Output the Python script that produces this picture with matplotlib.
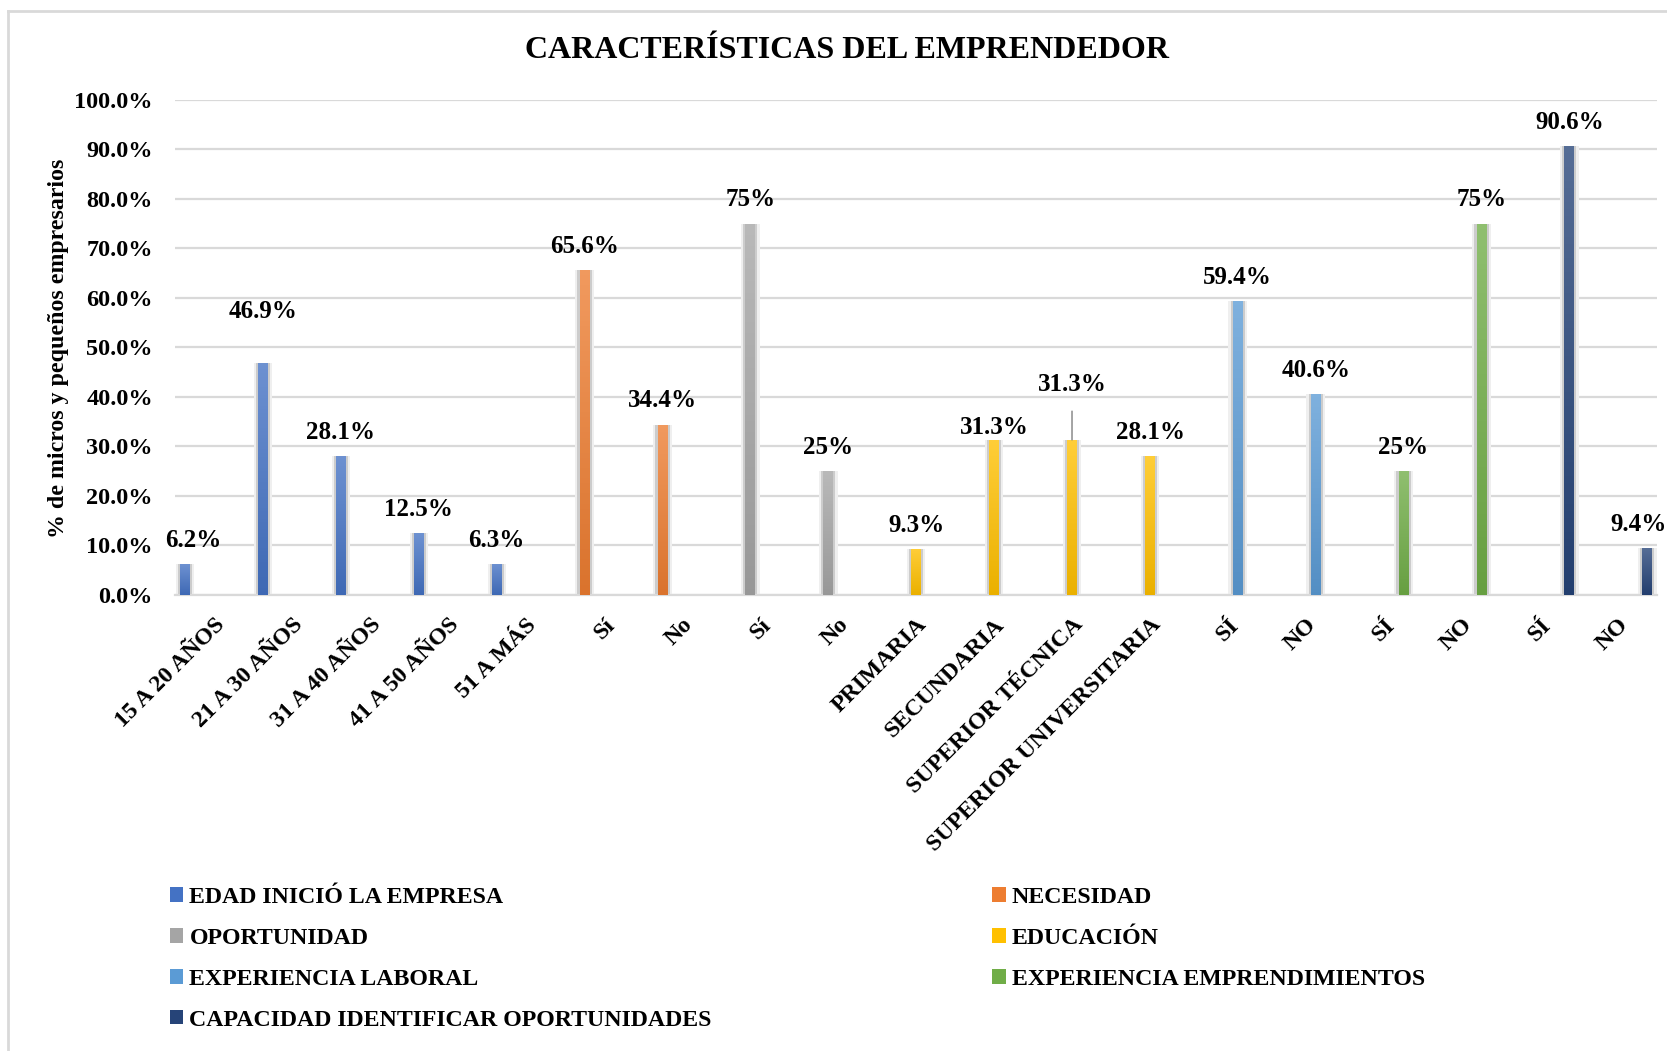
import numpy as np
import matplotlib
matplotlib.use('Agg')
import matplotlib.pyplot as plt
from matplotlib.patches import Patch
from matplotlib.lines import Line2D
from matplotlib.colors import to_rgb
from matplotlib.transforms import ScaledTranslation

plt.rcParams['font.family'] = ['Liberation Serif', 'DejaVu Serif']
plt.rcParams['font.weight'] = 'bold'

# ---------- datos ----------
TITLE = 'CARACTERÍSTICAS DEL EMPRENDEDOR'
YLABEL = '% de micros y pequeños empresarios'

CATEGORIES = ['15 A 20 AÑOS', '21 A 30 AÑOS', '31 A 40 AÑOS', '41 A 50 AÑOS', '51 A MÁS',
              'Sí', 'No', 'Sí', 'No',
              'PRIMARIA', 'SECUNDARIA', 'SUPERIOR TÉCNICA', 'SUPERIOR UNIVERSITARIA',
              'SÍ', 'NO', 'SÍ', 'NO', 'SÍ', 'NO']

SERIES = ['EDAD INICIÓ LA EMPRESA', 'NECESIDAD', 'OPORTUNIDAD', 'EDUCACIÓN',
          'EXPERIENCIA LABORAL', 'EXPERIENCIA EMPRENDIMIENTOS',
          'CAPACIDAD IDENTIFICAR OPORTUNIDADES']

# índice de categoría de cada serie y sus valores (%)
edad_cat = [0, 1, 2, 3, 4]
edad = [6.2, 46.9, 28.1, 12.5, 6.3]
necesidad_cat = [5, 6]
necesidad = [65.6, 34.4]
oportunidad_cat = [7, 8]
oportunidad = [75, 25]
educacion_cat = [9, 10, 11, 12]
educacion = [9.3, 31.3, 31.3, 28.1]
exp_laboral_cat = [13, 14]
exp_laboral = [59.4, 40.6]
exp_empr_cat = [15, 16]
exp_empr = [25, 75]
capacidad_cat = [17, 18]
capacidad = [90.6, 9.4]

SERIES_CATS = [edad_cat, necesidad_cat, oportunidad_cat, educacion_cat,
               exp_laboral_cat, exp_empr_cat, capacidad_cat]
SERIES_VALS = [edad, necesidad, oportunidad, educacion,
               exp_laboral, exp_empr, capacidad]

COLORS = ['#4472C4', '#ED7D31', '#A5A5A5', '#FFC000', '#5B9BD5', '#70AD47', '#264478']

# desplazamiento de etiquetas (puntos) que no siguen la posición por defecto
LABEL_OFFSET = {(0, 0): (6, 17), (0, 1): (0, 37), (3, 1): (0, 9), (3, 2): (0, 40),
                (6, 1): (-6, 17)}
LEADER = {(3, 2)}

# ---------- figura ----------
fig = plt.figure(figsize=(16.67, 10.51), dpi=100)
ax = fig.add_axes([0.105, 0.434, 0.889, 0.471])

n = len(SERIES)
w = 0.125
for i, (cats, vals) in enumerate(zip(SERIES_CATS, SERIES_VALS)):
    xs = np.array(cats) + (i - (n - 1) / 2) * w
    base = np.array(to_rgb(COLORS[i]))
    top = base + (1 - base) * 0.22
    bot = base * 0.92
    t = np.linspace(0, 1, 64)[:, None, None]
    grad = top[None, None, :] * (1 - t) + bot[None, None, :] * t
    # sombra
    ax.bar(xs, vals, w * 1.9, color='#efefef', zorder=1)
    ax.bar(xs, vals, w * 1.45, color='#cccccc', zorder=2)
    bars = ax.bar(xs, vals, w, color=COLORS[i], zorder=3)
    for rect, x, v in zip(bars, xs, vals):
        im = ax.imshow(grad, extent=(x - w / 2, x + w / 2, 0, v), origin='upper',
                       aspect='auto', zorder=3.5)
        im.set_clip_path(rect)
    for j, (x, v) in enumerate(zip(xs, vals)):
        txt = f'{v:.0f}%' if float(v).is_integer() else f'{v:.1f}%'
        off = LABEL_OFFSET.get((i, j), (0, 17))
        arrow = dict(arrowstyle='-', color='#7f7f7f', lw=1, shrinkA=9, shrinkB=0) \
            if (i, j) in LEADER else None
        ax.annotate(txt, (x, v), xytext=off, textcoords='offset points',
                    ha='center', va='center', fontsize=18, fontweight='bold',
                    arrowprops=arrow, annotation_clip=False, zorder=5)

ax.set_xlim(-0.5, len(CATEGORIES) - 0.5)
ax.set_ylim(0, 100)
ax.set_yticks(np.arange(0, 101, 10))
ax.set_yticklabels([f'{v:.1f}%' for v in np.arange(0, 101, 10)], fontsize=17.5)
ax.set_xticks(np.arange(len(CATEGORIES)))
ax.set_xticklabels(CATEGORIES, fontsize=17.2, rotation=45, ha='right', va='top',
                   rotation_mode='anchor')
shift = ScaledTranslation(1 / 72, 0, fig.dpi_scale_trans)
for lab in ax.get_xticklabels():
    lab.set_transform(lab.get_transform() + shift)
ax.tick_params(axis='x', length=0, pad=14)
ax.tick_params(axis='y', length=0, pad=16)
ax.grid(axis='y', color='#d9d9d9', lw=1.6, zorder=0)
ax.set_axisbelow(True)
for s in ['top', 'right', 'left']:
    ax.spines[s].set_visible(False)
ax.spines['bottom'].set_color('#d9d9d9')
ax.spines['bottom'].set_linewidth(1.6)

fig.text(0.508, 0.952, TITLE, ha='center', va='center', fontsize=23, fontweight='bold')
fig.text(0.035, 0.669, YLABEL, ha='center', va='center', rotation=90,
         fontsize=17.2, fontweight='bold')

# leyenda: orden por filas (Excel)
handles = [Patch(facecolor=c) for c in COLORS]
order = [0, 2, 4, 6, 1, 3, 5]
fig.legend([handles[k] for k in order], [SERIES[k] for k in order],
           loc='upper left', bbox_to_anchor=(0.102, 0.156), ncol=2, frameon=False,
           fontsize=17.2, handlelength=0.56, handleheight=0.56, handletextpad=0.25,
           labelspacing=0.83, columnspacing=11.75, borderpad=0, borderaxespad=0)

# marco del gráfico
fig.add_artist(Line2D([8 / 1667, 8 / 1667], [0, 1 - 11 / 1051], color='#d9d9d9', lw=2))
fig.add_artist(Line2D([8 / 1667, 1], [1 - 11 / 1051, 1 - 11 / 1051], color='#d9d9d9', lw=2))

fig.savefig('out.png', dpi=100, facecolor='white')
